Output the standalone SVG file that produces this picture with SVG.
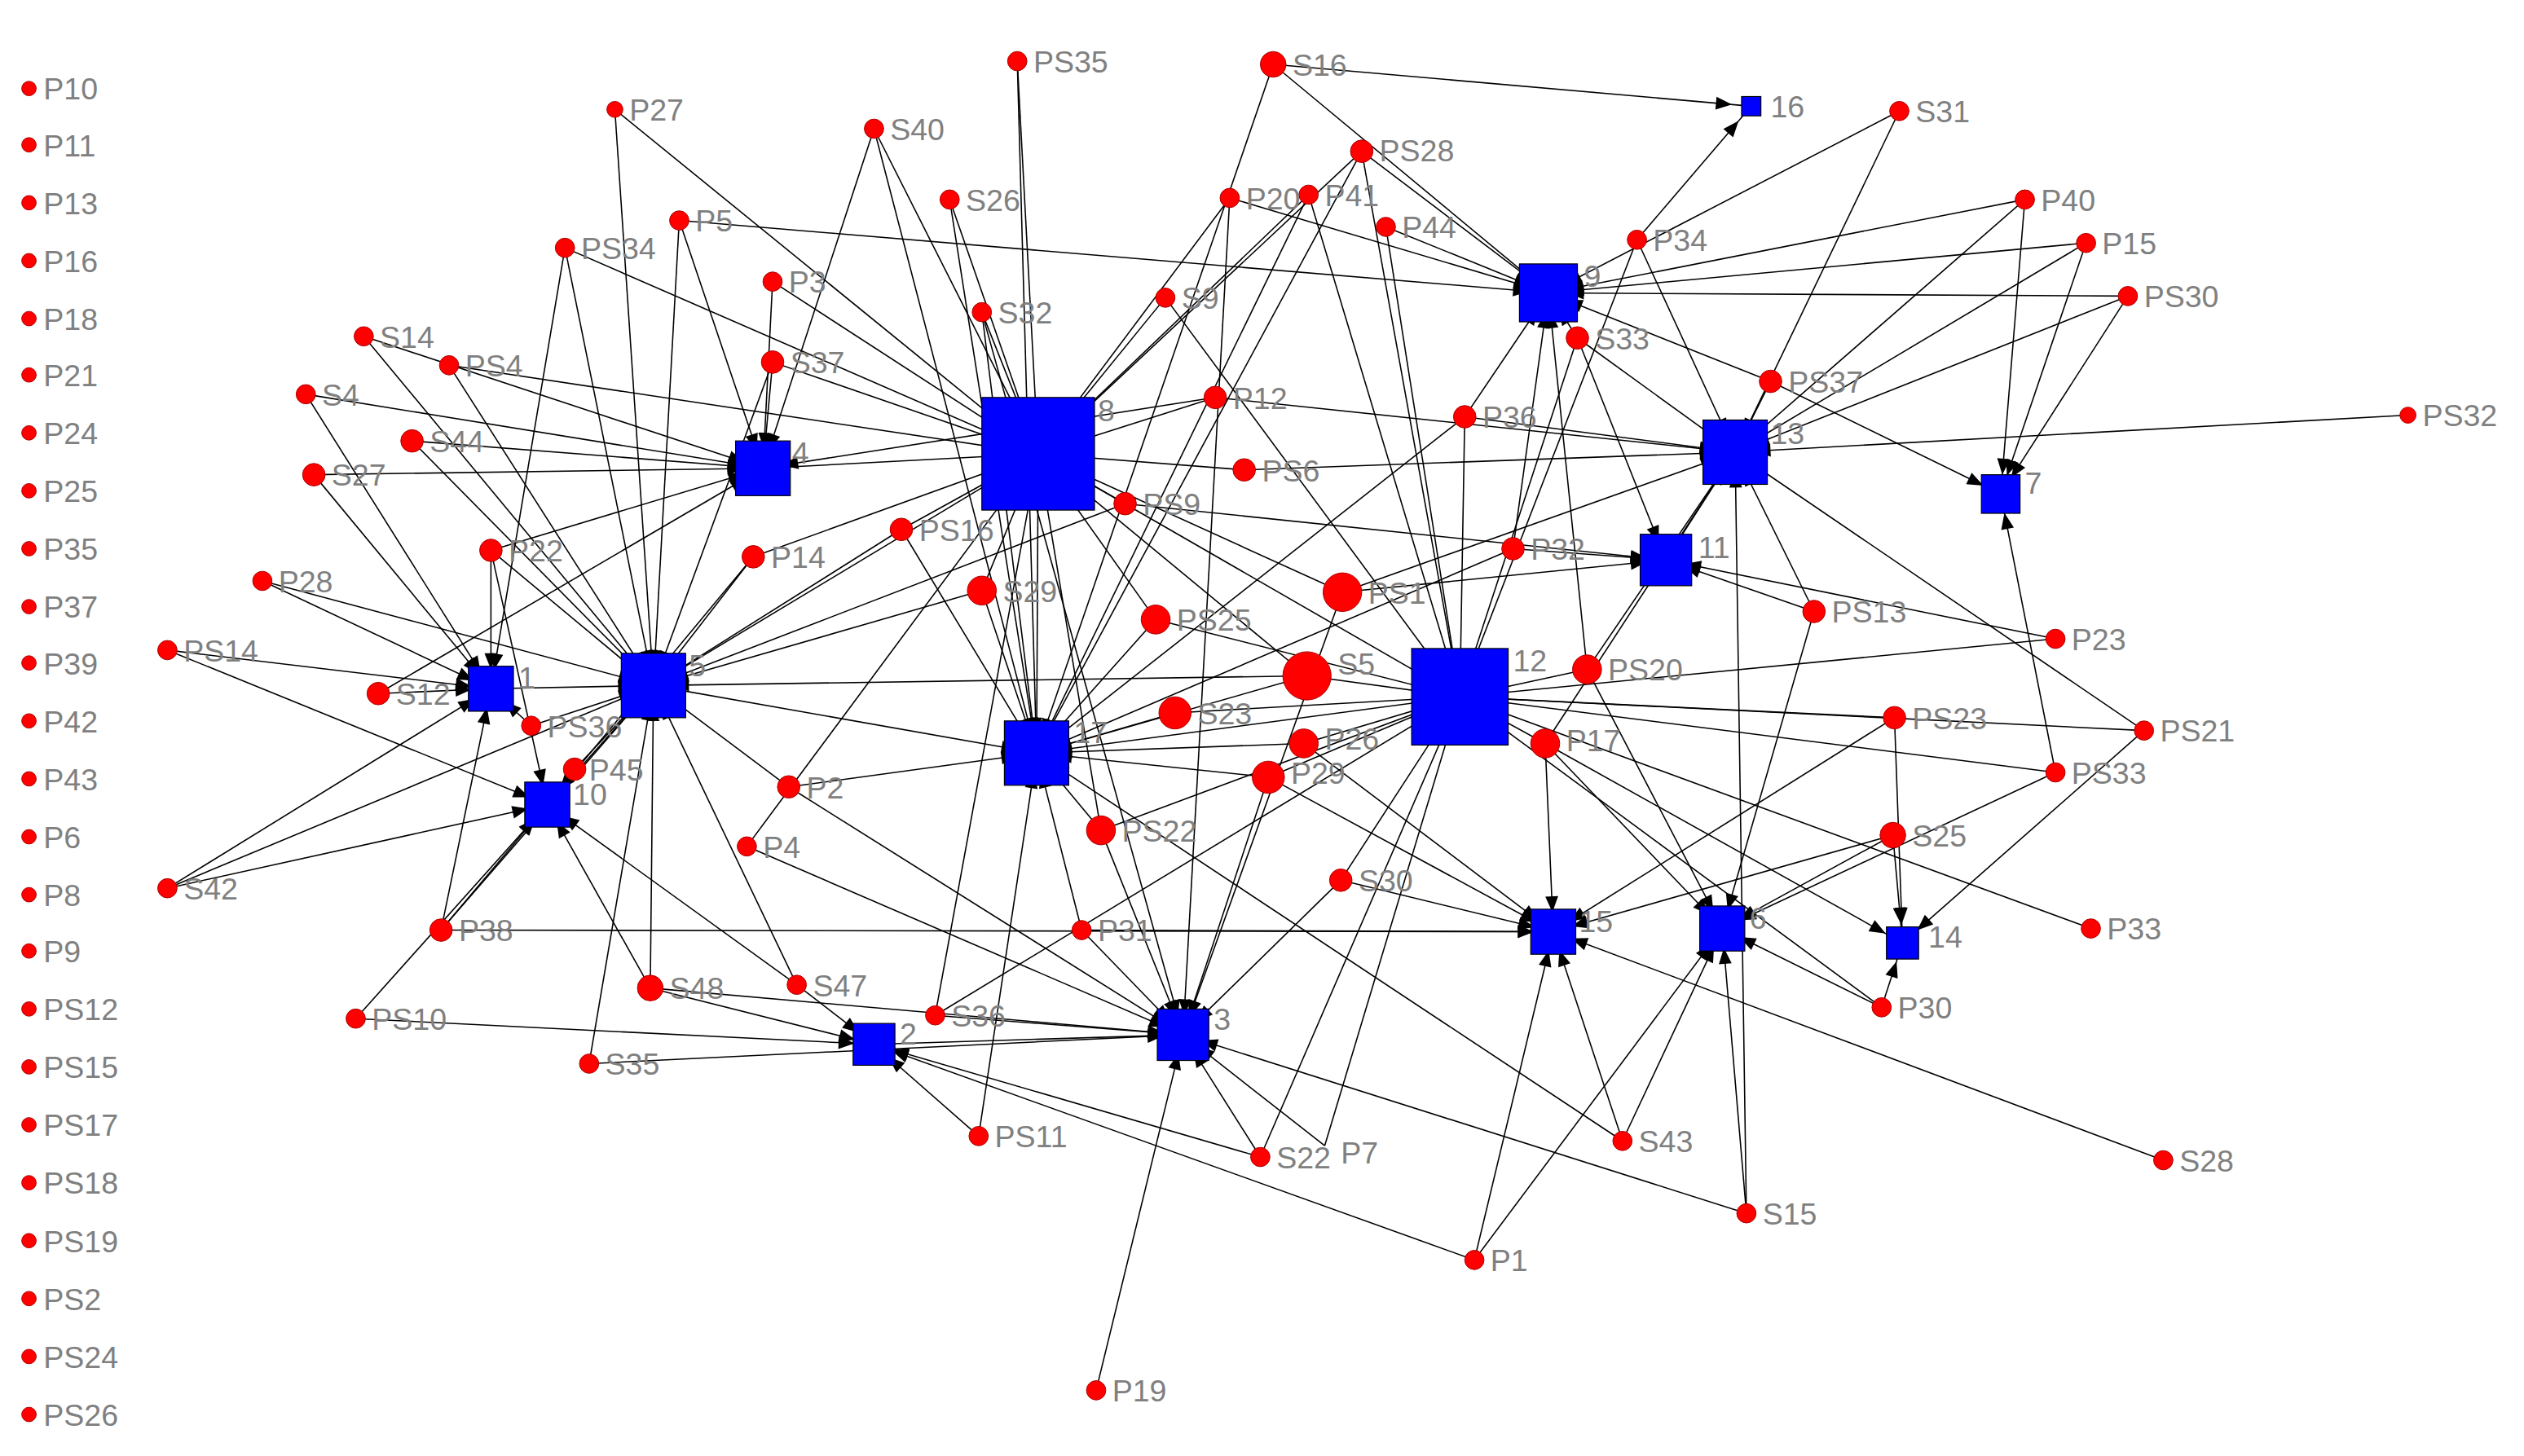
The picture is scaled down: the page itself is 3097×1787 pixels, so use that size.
<svg xmlns="http://www.w3.org/2000/svg" width="3097" height="1787" viewBox="0 0 3097 1787">
<style>
.e{stroke:#000;stroke-width:0.8;fill:none;marker-end:url(#a)}
.c{fill:#f00;stroke:#a00;stroke-width:0.5}
.s{fill:#00f;stroke:#000;stroke-width:0.6}
text{font-family:"Liberation Sans",Arial,sans-serif;font-size:19px;fill:#808080}
</style>
<defs><marker id="a" markerUnits="userSpaceOnUse" markerWidth="10" markerHeight="8" refX="22" refY="4" orient="auto" overflow="visible"><path d="M0,0 L10,4 L0,8 z" fill="#000"/></marker></defs>
<rect width="3097" height="1787" fill="#fff"/>
<g transform="scale(1.975)">
<g id="connectors">
<line class="e" x1="632" y1="38" x2="645" y2="282"/><line class="e" x1="632" y1="38" x2="644" y2="468"/>
<line class="e" x1="791" y1="40" x2="1088" y2="66"/><line class="e" x1="791" y1="40" x2="962" y2="182"/><line class="e" x1="791" y1="40" x2="644" y2="468"/>
<line class="e" x1="382" y1="68" x2="406" y2="426"/><line class="e" x1="382" y1="68" x2="645" y2="282"/>
<line class="e" x1="543" y1="80" x2="474" y2="291"/><line class="e" x1="543" y1="80" x2="645" y2="282"/><line class="e" x1="543" y1="80" x2="644" y2="468"/>
<line class="e" x1="846" y1="94" x2="962" y2="182"/><line class="e" x1="846" y1="94" x2="645" y2="282"/><line class="e" x1="846" y1="94" x2="644" y2="468"/><line class="e" x1="846" y1="94" x2="907" y2="433"/>
<line class="e" x1="1180" y1="69" x2="962" y2="182"/><line class="e" x1="1180" y1="69" x2="1078" y2="281"/>
<line class="e" x1="1258" y1="124" x2="1243" y2="307"/><line class="e" x1="1258" y1="124" x2="1078" y2="281"/><line class="e" x1="1258" y1="124" x2="962" y2="182"/>
<line class="e" x1="1296" y1="151" x2="1243" y2="307"/><line class="e" x1="1296" y1="151" x2="962" y2="182"/><line class="e" x1="1296" y1="151" x2="1078" y2="281"/>
<line class="e" x1="1322" y1="184" x2="962" y2="182"/><line class="e" x1="1322" y1="184" x2="1243" y2="307"/><line class="e" x1="1322" y1="184" x2="1078" y2="281"/>
<line class="e" x1="813" y1="121" x2="907" y2="433"/><line class="e" x1="813" y1="121" x2="644" y2="468"/><line class="e" x1="813" y1="121" x2="645" y2="282"/>
<line class="e" x1="764" y1="123" x2="962" y2="182"/><line class="e" x1="764" y1="123" x2="645" y2="282"/><line class="e" x1="764" y1="123" x2="735" y2="643"/>
<line class="e" x1="590" y1="124" x2="645" y2="282"/><line class="e" x1="590" y1="124" x2="644" y2="468"/>
<line class="e" x1="422" y1="137" x2="474" y2="291"/><line class="e" x1="422" y1="137" x2="406" y2="426"/><line class="e" x1="422" y1="137" x2="962" y2="182"/>
<line class="e" x1="861" y1="141" x2="962" y2="182"/><line class="e" x1="861" y1="141" x2="907" y2="433"/>
<line class="e" x1="1017" y1="149" x2="1088" y2="66"/><line class="e" x1="1017" y1="149" x2="1078" y2="281"/><line class="e" x1="1017" y1="149" x2="907" y2="433"/>
<line class="e" x1="351" y1="154" x2="645" y2="282"/><line class="e" x1="351" y1="154" x2="305" y2="428"/><line class="e" x1="351" y1="154" x2="406" y2="426"/>
<line class="e" x1="480" y1="175" x2="645" y2="282"/><line class="e" x1="480" y1="175" x2="474" y2="291"/>
<line class="e" x1="724" y1="185" x2="645" y2="282"/><line class="e" x1="724" y1="185" x2="907" y2="433"/>
<line class="e" x1="610" y1="194" x2="645" y2="282"/><line class="e" x1="610" y1="194" x2="644" y2="468"/><line class="e" x1="610" y1="194" x2="735" y2="643"/>
<line class="e" x1="980" y1="210" x2="962" y2="182"/><line class="e" x1="980" y1="210" x2="1035" y2="348"/><line class="e" x1="980" y1="210" x2="1078" y2="281"/><line class="e" x1="980" y1="210" x2="907" y2="433"/>
<line class="e" x1="226" y1="209" x2="406" y2="426"/><line class="e" x1="226" y1="209" x2="474" y2="291"/>
<line class="e" x1="279" y1="227" x2="645" y2="282"/><line class="e" x1="279" y1="227" x2="406" y2="426"/>
<line class="e" x1="480" y1="225" x2="474" y2="291"/><line class="e" x1="480" y1="225" x2="645" y2="282"/><line class="e" x1="480" y1="225" x2="406" y2="426"/>
<line class="e" x1="1100" y1="237" x2="1243" y2="307"/><line class="e" x1="1100" y1="237" x2="962" y2="182"/><line class="e" x1="1100" y1="237" x2="1078" y2="281"/>
<line class="e" x1="190" y1="245" x2="474" y2="291"/><line class="e" x1="190" y1="245" x2="305" y2="428"/>
<line class="e" x1="755" y1="247" x2="645" y2="282"/><line class="e" x1="755" y1="247" x2="474" y2="291"/><line class="e" x1="755" y1="247" x2="1078" y2="281"/>
<line class="e" x1="910" y1="259" x2="962" y2="182"/><line class="e" x1="910" y1="259" x2="1078" y2="281"/><line class="e" x1="910" y1="259" x2="644" y2="468"/><line class="e" x1="910" y1="259" x2="907" y2="433"/>
<line class="e" x1="1496" y1="258" x2="1078" y2="281"/>
<line class="e" x1="256" y1="274" x2="406" y2="426"/><line class="e" x1="256" y1="274" x2="474" y2="291"/>
<line class="e" x1="195" y1="295" x2="474" y2="291"/><line class="e" x1="195" y1="295" x2="305" y2="428"/>
<line class="e" x1="773" y1="292" x2="645" y2="282"/><line class="e" x1="773" y1="292" x2="1078" y2="281"/>
<line class="e" x1="699" y1="313" x2="645" y2="282"/><line class="e" x1="699" y1="313" x2="1035" y2="348"/><line class="e" x1="699" y1="313" x2="406" y2="426"/>
<line class="e" x1="560" y1="329" x2="645" y2="282"/><line class="e" x1="560" y1="329" x2="406" y2="426"/><line class="e" x1="560" y1="329" x2="644" y2="468"/>
<line class="e" x1="305" y1="342" x2="305" y2="428"/><line class="e" x1="305" y1="342" x2="474" y2="291"/><line class="e" x1="305" y1="342" x2="406" y2="426"/><line class="e" x1="305" y1="342" x2="340" y2="500"/>
<line class="e" x1="940" y1="341" x2="962" y2="182"/><line class="e" x1="940" y1="341" x2="1035" y2="348"/><line class="e" x1="940" y1="341" x2="644" y2="468"/>
<line class="e" x1="163" y1="361" x2="305" y2="428"/><line class="e" x1="163" y1="361" x2="406" y2="426"/>
<line class="e" x1="468" y1="346" x2="645" y2="282"/><line class="e" x1="468" y1="346" x2="406" y2="426"/><line class="e" x1="468" y1="346" x2="340" y2="500"/>
<line class="e" x1="834" y1="368" x2="1078" y2="281"/><line class="e" x1="834" y1="368" x2="1035" y2="348"/><line class="e" x1="834" y1="368" x2="645" y2="282"/><line class="e" x1="834" y1="368" x2="735" y2="643"/>
<line class="e" x1="610" y1="367" x2="644" y2="468"/><line class="e" x1="610" y1="367" x2="645" y2="282"/><line class="e" x1="610" y1="367" x2="406" y2="426"/>
<line class="e" x1="1127" y1="380" x2="1035" y2="348"/><line class="e" x1="1127" y1="380" x2="1078" y2="281"/><line class="e" x1="1127" y1="380" x2="1070" y2="577"/>
<line class="e" x1="718" y1="385" x2="644" y2="468"/><line class="e" x1="718" y1="385" x2="907" y2="433"/><line class="e" x1="718" y1="385" x2="645" y2="282"/>
<line class="e" x1="1277" y1="397" x2="907" y2="433"/><line class="e" x1="1277" y1="397" x2="1035" y2="348"/>
<line class="e" x1="104" y1="404" x2="305" y2="428"/><line class="e" x1="104" y1="404" x2="340" y2="500"/>
<line class="e" x1="235" y1="431" x2="305" y2="428"/><line class="e" x1="235" y1="431" x2="474" y2="291"/>
<line class="e" x1="812" y1="420" x2="907" y2="433"/><line class="e" x1="812" y1="420" x2="644" y2="468"/><line class="e" x1="812" y1="420" x2="645" y2="282"/><line class="e" x1="812" y1="420" x2="406" y2="426"/>
<line class="e" x1="986" y1="416" x2="907" y2="433"/><line class="e" x1="986" y1="416" x2="1078" y2="281"/><line class="e" x1="986" y1="416" x2="962" y2="182"/><line class="e" x1="986" y1="416" x2="1070" y2="577"/>
<line class="e" x1="730" y1="443" x2="644" y2="468"/><line class="e" x1="730" y1="443" x2="907" y2="433"/>
<line class="e" x1="1177" y1="446" x2="907" y2="433"/><line class="e" x1="1177" y1="446" x2="1182" y2="586"/><line class="e" x1="1177" y1="446" x2="965" y2="579"/>
<line class="e" x1="330" y1="451" x2="305" y2="428"/><line class="e" x1="330" y1="451" x2="406" y2="426"/>
<line class="e" x1="1332" y1="454" x2="907" y2="433"/><line class="e" x1="1332" y1="454" x2="1078" y2="281"/><line class="e" x1="1332" y1="454" x2="1182" y2="586"/>
<line class="e" x1="357" y1="478" x2="406" y2="426"/>
<line class="e" x1="810" y1="462" x2="907" y2="433"/><line class="e" x1="810" y1="462" x2="644" y2="468"/><line class="e" x1="810" y1="462" x2="965" y2="579"/>
<line class="e" x1="960" y1="462" x2="1078" y2="281"/><line class="e" x1="960" y1="462" x2="907" y2="433"/><line class="e" x1="960" y1="462" x2="965" y2="579"/><line class="e" x1="960" y1="462" x2="1070" y2="577"/><line class="e" x1="960" y1="462" x2="1182" y2="586"/>
<line class="e" x1="788" y1="483" x2="644" y2="468"/><line class="e" x1="788" y1="483" x2="907" y2="433"/><line class="e" x1="788" y1="483" x2="735" y2="643"/><line class="e" x1="788" y1="483" x2="965" y2="579"/>
<line class="e" x1="1277" y1="480" x2="907" y2="433"/><line class="e" x1="1277" y1="480" x2="1070" y2="577"/><line class="e" x1="1277" y1="480" x2="1243" y2="307"/>
<line class="e" x1="490" y1="489" x2="406" y2="426"/><line class="e" x1="490" y1="489" x2="644" y2="468"/><line class="e" x1="490" y1="489" x2="735" y2="643"/>
<line class="e" x1="684" y1="516" x2="644" y2="468"/><line class="e" x1="684" y1="516" x2="645" y2="282"/><line class="e" x1="684" y1="516" x2="735" y2="643"/><line class="e" x1="684" y1="516" x2="907" y2="433"/>
<line class="e" x1="1176" y1="519" x2="1182" y2="586"/><line class="e" x1="1176" y1="519" x2="1070" y2="577"/><line class="e" x1="1176" y1="519" x2="965" y2="579"/>
<line class="e" x1="464" y1="526" x2="645" y2="282"/><line class="e" x1="464" y1="526" x2="735" y2="643"/>
<line class="e" x1="833" y1="547" x2="965" y2="579"/><line class="e" x1="833" y1="547" x2="735" y2="643"/><line class="e" x1="833" y1="547" x2="907" y2="433"/>
<line class="e" x1="104" y1="552" x2="340" y2="500"/><line class="e" x1="104" y1="552" x2="305" y2="428"/><line class="e" x1="104" y1="552" x2="406" y2="426"/>
<line class="e" x1="672" y1="578" x2="644" y2="468"/><line class="e" x1="672" y1="578" x2="965" y2="579"/><line class="e" x1="672" y1="578" x2="735" y2="643"/>
<line class="e" x1="1299" y1="577" x2="907" y2="433"/>
<line class="e" x1="274" y1="578" x2="305" y2="428"/><line class="e" x1="274" y1="578" x2="340" y2="500"/><line class="e" x1="274" y1="578" x2="965" y2="579"/><line class="e" x1="274" y1="578" x2="406" y2="426"/>
<line class="e" x1="404" y1="614" x2="543" y2="649"/><line class="e" x1="404" y1="614" x2="406" y2="426"/><line class="e" x1="404" y1="614" x2="340" y2="500"/><line class="e" x1="404" y1="614" x2="735" y2="643"/>
<line class="e" x1="495" y1="612" x2="340" y2="500"/><line class="e" x1="495" y1="612" x2="543" y2="649"/><line class="e" x1="495" y1="612" x2="406" y2="426"/>
<line class="e" x1="221" y1="633" x2="340" y2="500"/><line class="e" x1="221" y1="633" x2="543" y2="649"/>
<line class="e" x1="581" y1="631" x2="907" y2="433"/><line class="e" x1="581" y1="631" x2="735" y2="643"/><line class="e" x1="581" y1="631" x2="645" y2="282"/>
<line class="e" x1="1169" y1="626" x2="1182" y2="586"/><line class="e" x1="1169" y1="626" x2="1070" y2="577"/><line class="e" x1="1169" y1="626" x2="907" y2="433"/>
<line class="e" x1="366" y1="661" x2="406" y2="426"/><line class="e" x1="366" y1="661" x2="735" y2="643"/>
<line class="e" x1="608" y1="706" x2="543" y2="649"/><line class="e" x1="608" y1="706" x2="644" y2="468"/>
<line class="e" x1="783" y1="719" x2="543" y2="649"/><line class="e" x1="783" y1="719" x2="735" y2="643"/><line class="e" x1="783" y1="719" x2="907" y2="433"/>
<line class="e" x1="823" y1="712" x2="735" y2="643"/><line class="e" x1="823" y1="712" x2="907" y2="433"/>
<line class="e" x1="1008" y1="709" x2="1070" y2="577"/><line class="e" x1="1008" y1="709" x2="644" y2="468"/><line class="e" x1="1008" y1="709" x2="965" y2="579"/>
<line class="e" x1="1344" y1="721" x2="965" y2="579"/>
<line class="e" x1="1085" y1="754" x2="735" y2="643"/><line class="e" x1="1085" y1="754" x2="1070" y2="577"/><line class="e" x1="1085" y1="754" x2="1078" y2="281"/>
<line class="e" x1="916" y1="783" x2="965" y2="579"/><line class="e" x1="916" y1="783" x2="1070" y2="577"/><line class="e" x1="916" y1="783" x2="543" y2="649"/>
<line class="e" x1="681" y1="864" x2="735" y2="643"/>
<line class="e" x1="406" y1="426" x2="645" y2="282"/><line class="e" x1="305" y1="428" x2="406" y2="426"/><line class="e" x1="340" y1="500" x2="406" y2="426"/><line class="e" x1="543" y1="649" x2="735" y2="643"/><line class="e" x1="1035" y1="348" x2="1078" y2="281"/><line class="e" x1="907" y1="433" x2="645" y2="282"/><line class="e" x1="644" y1="468" x2="907" y2="433"/><line class="e" x1="406" y1="426" x2="644" y2="468"/><line class="e" x1="474" y1="291" x2="645" y2="282"/><line class="e" x1="644" y1="468" x2="645" y2="282"/>
</g>
<g id="nodes">
<g id="left"><circle class="c" cx="18" cy="55" r="4.5"/><text x="27" y="62">P10</text><circle class="c" cx="18" cy="90" r="4.5"/><text x="27" y="97">P11</text><circle class="c" cx="18" cy="126" r="4.5"/><text x="27" y="133">P13</text><circle class="c" cx="18" cy="162" r="4.5"/><text x="27" y="169">P16</text><circle class="c" cx="18" cy="198" r="4.5"/><text x="27" y="205">P18</text><circle class="c" cx="18" cy="233" r="4.5"/><text x="27" y="240">P21</text><circle class="c" cx="18" cy="269" r="4.5"/><text x="27" y="276">P24</text><circle class="c" cx="18" cy="305" r="4.5"/><text x="27" y="312">P25</text><circle class="c" cx="18" cy="341" r="4.5"/><text x="27" y="348">P35</text><circle class="c" cx="18" cy="377" r="4.5"/><text x="27" y="384">P37</text><circle class="c" cx="18" cy="412" r="4.5"/><text x="27" y="419">P39</text><circle class="c" cx="18" cy="448" r="4.5"/><text x="27" y="455">P42</text><circle class="c" cx="18" cy="484" r="4.5"/><text x="27" y="491">P43</text><circle class="c" cx="18" cy="520" r="4.5"/><text x="27" y="527">P6</text><circle class="c" cx="18" cy="556" r="4.5"/><text x="27" y="563">P8</text><circle class="c" cx="18" cy="591" r="4.5"/><text x="27" y="598">P9</text><circle class="c" cx="18" cy="627" r="4.5"/><text x="27" y="634">PS12</text><circle class="c" cx="18" cy="663" r="4.5"/><text x="27" y="670">PS15</text><circle class="c" cx="18" cy="699" r="4.5"/><text x="27" y="706">PS17</text><circle class="c" cx="18" cy="735" r="4.5"/><text x="27" y="742">PS18</text><circle class="c" cx="18" cy="771" r="4.5"/><text x="27" y="778">PS19</text><circle class="c" cx="18" cy="807" r="4.5"/><text x="27" y="814">PS2</text><circle class="c" cx="18" cy="843" r="4.5"/><text x="27" y="850">PS24</text><circle class="c" cx="18" cy="879" r="4.5"/><text x="27" y="886">PS26</text></g>
<g id="n16"><rect class="s" x="1082" y="60" width="12" height="12"/><text x="1100" y="73">16</text></g>
<g id="n9"><rect class="s" x="944" y="164" width="36" height="36"/><text x="984" y="178">9</text></g>
<g id="n13"><rect class="s" x="1058" y="261" width="40" height="40"/><text x="1100" y="276">13</text></g>
<g id="n7"><rect class="s" x="1231" y="295" width="24" height="24"/><text x="1258" y="307">7</text></g>
<g id="n11"><rect class="s" x="1019" y="332" width="32" height="32"/><text x="1055" y="347">11</text></g>
<g id="n8"><rect class="s" x="610" y="247" width="70" height="70"/><text x="682" y="262">8</text></g>
<g id="n4"><rect class="s" x="457" y="274" width="34" height="34"/><text x="492" y="288">4</text></g>
<g id="n1"><rect class="s" x="291" y="414" width="28" height="28"/><text x="322" y="428">1</text></g>
<g id="n5"><rect class="s" x="386" y="406" width="40" height="40"/><text x="428" y="420">5</text></g>
<g id="n10"><rect class="s" x="326" y="486" width="28" height="28"/><text x="356" y="500">10</text></g>
<g id="n12"><rect class="s" x="877" y="403" width="60" height="60"/><text x="940" y="417">12</text></g>
<g id="n17"><rect class="s" x="624" y="448" width="40" height="40"/><text x="667" y="462">17</text></g>
<g id="n15"><rect class="s" x="951" y="565" width="28" height="28"/><text x="981" y="579">15</text></g>
<g id="n6"><rect class="s" x="1056" y="563" width="28" height="28"/><text x="1087" y="577">6</text></g>
<g id="n14"><rect class="s" x="1172" y="576" width="20" height="20"/><text x="1198" y="589">14</text></g>
<g id="n2"><rect class="s" x="530" y="636" width="26" height="26"/><text x="559" y="649">2</text></g>
<g id="n3"><rect class="s" x="719" y="627" width="32" height="32"/><text x="754" y="640">3</text></g>
<g id="circles">
<circle class="c" cx="632" cy="38" r="6"/><text x="642" y="45">PS35</text>
<circle class="c" cx="791" cy="40" r="8"/><text x="803" y="47">S16</text>
<circle class="c" cx="382" cy="68" r="5"/><text x="391" y="75">P27</text>
<circle class="c" cx="543" cy="80" r="6"/><text x="553" y="87">S40</text>
<circle class="c" cx="846" cy="94" r="7"/><text x="857" y="100">PS28</text>
<circle class="c" cx="1180" cy="69" r="6"/><text x="1190" y="76">S31</text>
<circle class="c" cx="1258" cy="124" r="6"/><text x="1268" y="131">P40</text>
<circle class="c" cx="1296" cy="151" r="6"/><text x="1306" y="158">P15</text>
<circle class="c" cx="1322" cy="184" r="6"/><text x="1332" y="191">PS30</text>
<circle class="c" cx="813" cy="121" r="6"/><text x="823" y="128">P41</text>
<circle class="c" cx="764" cy="123" r="6"/><text x="774" y="130">P20</text>
<circle class="c" cx="590" cy="124" r="6"/><text x="600" y="131">S26</text>
<circle class="c" cx="422" cy="137" r="6"/><text x="432" y="144">P5</text>
<circle class="c" cx="861" cy="141" r="6"/><text x="871" y="148">P44</text>
<circle class="c" cx="1017" cy="149" r="6"/><text x="1027" y="156">P34</text>
<circle class="c" cx="351" cy="154" r="6"/><text x="361" y="161">PS34</text>
<circle class="c" cx="480" cy="175" r="6"/><text x="490" y="182">P3</text>
<circle class="c" cx="724" cy="185" r="6"/><text x="734" y="192">S9</text>
<circle class="c" cx="610" cy="194" r="6"/><text x="620" y="201">S32</text>
<circle class="c" cx="980" cy="210" r="7"/><text x="991" y="217">S33</text>
<circle class="c" cx="226" cy="209" r="6"/><text x="236" y="216">S14</text>
<circle class="c" cx="279" cy="227" r="6"/><text x="289" y="234">PS4</text>
<circle class="c" cx="480" cy="225" r="7"/><text x="491" y="232">S37</text>
<circle class="c" cx="1100" cy="237" r="7"/><text x="1111" y="244">PS37</text>
<circle class="c" cx="190" cy="245" r="6"/><text x="200" y="252">S4</text>
<circle class="c" cx="755" cy="247" r="7"/><text x="766" y="254">P12</text>
<circle class="c" cx="910" cy="259" r="7"/><text x="921" y="266">P36</text>
<circle class="c" cx="1496" cy="258" r="5"/><text x="1505" y="265">PS32</text>
<circle class="c" cx="256" cy="274" r="7"/><text x="267" y="281">S44</text>
<circle class="c" cx="195" cy="295" r="7"/><text x="206" y="302">S27</text>
<circle class="c" cx="773" cy="292" r="7"/><text x="784" y="299">PS6</text>
<circle class="c" cx="699" cy="313" r="7"/><text x="710" y="320">PS9</text>
<circle class="c" cx="560" cy="329" r="7"/><text x="571" y="336">PS16</text>
<circle class="c" cx="305" cy="342" r="7"/><text x="316" y="349">P22</text>
<circle class="c" cx="940" cy="341" r="7"/><text x="951" y="348">P32</text>
<circle class="c" cx="163" cy="361" r="6"/><text x="173" y="368">P28</text>
<circle class="c" cx="468" cy="346" r="7"/><text x="479" y="353">P14</text>
<circle class="c" cx="834" cy="368" r="12"/><text x="850" y="375">PS1</text>
<circle class="c" cx="610" cy="367" r="9"/><text x="623" y="374">S29</text>
<circle class="c" cx="1127" cy="380" r="7"/><text x="1138" y="387">PS13</text>
<circle class="c" cx="718" cy="385" r="9"/><text x="731" y="392">PS25</text>
<circle class="c" cx="1277" cy="397" r="6"/><text x="1287" y="404">P23</text>
<circle class="c" cx="104" cy="404" r="6"/><text x="114" y="411">PS14</text>
<circle class="c" cx="235" cy="431" r="7"/><text x="246" y="438">S12</text>
<circle class="c" cx="812" cy="420" r="15"/><text x="831" y="419">S5</text>
<circle class="c" cx="986" cy="416" r="9"/><text x="999" y="423">PS20</text>
<circle class="c" cx="730" cy="443" r="10"/><text x="744" y="450">S23</text>
<circle class="c" cx="1177" cy="446" r="7"/><text x="1188" y="453">PS23</text>
<circle class="c" cx="330" cy="451" r="6"/><text x="340" y="458">PS36</text>
<circle class="c" cx="1332" cy="454" r="6"/><text x="1342" y="461">PS21</text>
<circle class="c" cx="357" cy="478" r="7"/><text x="366" y="485">P45</text>
<circle class="c" cx="810" cy="462" r="9"/><text x="823" y="466">P26</text>
<circle class="c" cx="960" cy="462" r="9"/><text x="973" y="467">P17</text>
<circle class="c" cx="788" cy="483" r="10"/><text x="802" y="487">P29</text>
<circle class="c" cx="1277" cy="480" r="6"/><text x="1287" y="487">PS33</text>
<circle class="c" cx="490" cy="489" r="7"/><text x="501" y="496">P2</text>
<circle class="c" cx="684" cy="516" r="9"/><text x="697" y="523">PS22</text>
<circle class="c" cx="1176" cy="519" r="8"/><text x="1188" y="526">S25</text>
<circle class="c" cx="464" cy="526" r="6"/><text x="474" y="533">P4</text>
<circle class="c" cx="833" cy="547" r="7"/><text x="844" y="554">S30</text>
<circle class="c" cx="104" cy="552" r="6"/><text x="114" y="559">S42</text>
<circle class="c" cx="672" cy="578" r="6"/><text x="682" y="585">P31</text>
<circle class="c" cx="1299" cy="577" r="6"/><text x="1309" y="584">P33</text>
<circle class="c" cx="274" cy="578" r="7"/><text x="285" y="585">P38</text>
<circle class="c" cx="404" cy="614" r="8"/><text x="416" y="621">S48</text>
<circle class="c" cx="495" cy="612" r="6"/><text x="505" y="619">S47</text>
<circle class="c" cx="221" cy="633" r="6"/><text x="231" y="640">PS10</text>
<circle class="c" cx="581" cy="631" r="6"/><text x="591" y="638">S36</text>
<circle class="c" cx="1169" cy="626" r="6"/><text x="1179" y="633">P30</text>
<circle class="c" cx="366" cy="661" r="6"/><text x="376" y="668">S35</text>
<circle class="c" cx="608" cy="706" r="6"/><text x="618" y="713">PS11</text>
<circle class="c" cx="783" cy="719" r="6"/><text x="793" y="726">S22</text>
<text x="833" y="723">P7</text>
<circle class="c" cx="1008" cy="709" r="6"/><text x="1018" y="716">S43</text>
<circle class="c" cx="1344" cy="721" r="6"/><text x="1354" y="728">S28</text>
<circle class="c" cx="1085" cy="754" r="6"/><text x="1095" y="761">S15</text>
<circle class="c" cx="916" cy="783" r="6"/><text x="926" y="790">P1</text>
<circle class="c" cx="681" cy="864" r="6"/><text x="691" y="871">P19</text>
</g>
</g>
</g>
</svg>
